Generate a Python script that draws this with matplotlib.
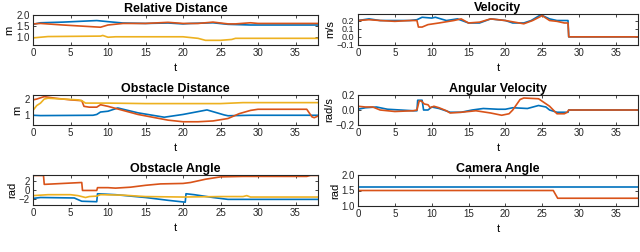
import numpy as np
import matplotlib
matplotlib.use("Agg")
import matplotlib.pyplot as plt

plt.rcParams["font.family"] = ["Liberation Sans", "DejaVu Sans"]

BLUE = "#0072BD"
ORANGE = "#D95319"
YELLOW = "#EDB120"

# ---- Relative Distance (m) ----
rd_blue_t = [0, 1, 4, 8.5, 10, 12, 15, 18, 20, 21, 22, 24, 26, 29, 38]
rd_blue_v = [1.58, 1.65, 1.68, 1.75, 1.7, 1.64, 1.62, 1.64, 1.6, 1.62, 1.63, 1.65, 1.58, 1.55, 1.55]
rd_orange_t = [0, 1, 4, 9, 10, 12, 15, 18, 20, 22, 24, 26, 27, 29, 30, 38]
rd_orange_v = [1.6, 1.62, 1.55, 1.45, 1.55, 1.62, 1.62, 1.67, 1.62, 1.62, 1.68, 1.6, 1.6, 1.65, 1.62, 1.62]
rd_yellow_t = [0, 2, 9, 9.3, 10, 11, 20, 22, 23, 25, 26.5, 27, 38]
rd_yellow_v = [0.97, 1.03, 1.05, 1.08, 1.0, 1.02, 1.02, 0.95, 0.86, 0.86, 0.9, 0.95, 0.95]

# ---- Velocity (m/s) ----
v_blue_t = [0, 1.5, 3, 7, 8, 8.7, 10, 10.5, 12, 13.5, 15, 16.5, 18, 20, 21, 22.5, 23.5, 24.8, 26, 27, 28.5, 28.6, 38]
v_blue_v = [0.2, 0.22, 0.2, 0.2, 0.21, 0.24, 0.23, 0.24, 0.2, 0.22, 0.17, 0.17, 0.22, 0.2, 0.17, 0.17, 0.2, 0.27, 0.22, 0.2, 0.2, 0.0, 0.0]
v_orange_t = [0, 1.5, 3, 5, 7, 8, 8.2, 8.7, 9.5, 11, 13, 14, 15, 16.5, 18, 20, 22.5, 23.7, 25, 26, 27, 28, 28.5, 28.6, 38]
v_orange_v = [0.2, 0.21, 0.2, 0.19, 0.2, 0.2, 0.12, 0.12, 0.15, 0.17, 0.2, 0.22, 0.17, 0.18, 0.22, 0.2, 0.16, 0.2, 0.26, 0.2, 0.19, 0.17, 0.17, 0.0, 0.0]

# ---- Obstacle Distance (m) ----
od_blue_t = [0, 1, 8, 8.5, 9, 10, 11.3, 14, 17.5, 20, 23.2, 25.5, 26, 29, 38]
od_blue_v = [1.0, 0.98, 1.0, 1.05, 1.2, 1.25, 1.45, 1.15, 0.88, 1.05, 1.33, 1.02, 0.97, 1.0, 1.0]
od_orange_t = [0, 0.5, 1.5, 3, 5, 6.5, 6.8, 7.5, 8.5, 9, 10, 14, 18, 20, 22, 24, 26, 27.5, 29, 30, 36.5, 37.2, 37.5, 38]
od_orange_v = [1.95, 2.0, 2.15, 2.05, 1.95, 1.9, 1.55, 1.5, 1.5, 1.65, 1.55, 1.05, 0.7, 0.6, 0.6, 0.65, 0.8, 1.1, 1.3, 1.37, 1.37, 0.9, 0.85, 0.95]
od_yellow_t = [0, 0.5, 1, 1.5, 2, 4, 6, 6.5, 7, 10, 15, 25, 28, 38]
od_yellow_v = [1.3, 1.6, 1.75, 2.0, 2.05, 2.0, 1.95, 1.9, 1.75, 1.75, 1.72, 1.72, 1.78, 1.78]

# ---- Angular Velocity (rad/s) ----
av_blue_t = [0, 1, 2.5, 4, 7.5, 8, 8.1, 8.7, 8.9, 9.5, 10, 11, 12.5, 14, 15.5, 17, 19, 20, 21, 23, 24.5, 25.5, 26, 27, 28.5, 28.6, 38]
av_blue_v = [0.01, 0.03, 0.04, 0.01, -0.01, -0.01, 0.13, 0.13, 0.0, 0.0, 0.04, 0.02, -0.03, -0.03, 0.0, 0.02, 0.01, 0.01, 0.03, 0.02, 0.06, 0.04, 0.0, -0.03, -0.03, 0.0, 0.0]
av_orange_t = [0, 1, 2, 3, 5, 7.5, 8, 8.3, 8.6, 9, 9.5, 9.8, 10.3, 11, 12, 12.5, 14, 16, 18, 19.5, 20.5, 21, 22, 22.5, 24.5, 26, 27, 28, 28.4, 28.6, 38]
av_orange_v = [0.05, 0.04, 0.04, 0.0, -0.02, -0.01, 0.0, 0.12, 0.12, 0.08, 0.07, 0.03, 0.05, 0.03, -0.01, -0.04, -0.03, -0.01, -0.04, -0.07, -0.05, 0.0, 0.14, 0.16, 0.15, 0.05, -0.05, -0.05, -0.03, 0.0, 0.0]

# ---- Obstacle Angle (rad) ----
oa_blue_t = [0, 1, 5.5, 6.5, 8.5, 8.6, 11, 15, 18, 20.3, 20.4, 21.5, 24, 26, 38]
oa_blue_v = [-1.8, -1.6, -1.7, -2.4, -2.5, -0.8, -1.0, -1.6, -2.2, -2.6, -0.8, -1.0, -1.6, -2.0, -2.0]
oa_orange_t = [0, 1.4, 1.5, 6.5, 6.6, 8.5, 8.6, 10, 11, 13, 15, 17, 20, 21, 23, 25, 28, 36.5, 37, 38]
oa_orange_v = [3.1, 3.1, 1.2, 1.6, -0.1, -0.1, 0.5, 0.5, 0.4, 0.6, 1.0, 1.3, 1.4, 1.6, 2.3, 2.8, 2.9, 2.9, 3.1, 3.1]
oa_yellow_t = [0, 2, 5, 6, 7, 7.5, 8.5, 9, 12, 15, 20, 25, 28, 28.5, 29, 38]
oa_yellow_v = [-1.2, -1.0, -1.0, -1.2, -1.6, -1.4, -1.3, -1.0, -1.1, -1.4, -1.5, -1.4, -1.4, -1.2, -1.5, -1.5]

# ---- Camera Angle (rad) ----
ca_blue_t = [0, 38]
ca_blue_v = [1.6, 1.6]
ca_orange_t = [0, 26.5, 27.1, 38]
ca_orange_v = [1.5, 1.5, 1.25, 1.25]


def style_axes(ax, title, ylabel, ylim, yticks):
    ax.set_title(title, fontsize=9, fontweight="bold", pad=2.5)
    ax.set_ylabel(ylabel, fontsize=8, labelpad=1)
    ax.set_xlabel("t", fontsize=8, labelpad=3)
    ax.set_xlim(0, 38)
    ax.set_ylim(*ylim)
    ax.set_xticks(range(0, 40, 5))
    ax.set_yticks(yticks)
    ax.tick_params(direction="in", top=True, right=True, labelsize=7,
                   length=2.5, width=0.6, pad=2.5, colors="#262626")
    for s in ax.spines.values():
        s.set_linewidth(0.8)
        s.set_color("#262626")


fig = plt.figure(figsize=(6.4, 2.52), dpi=100)
W, H = 640, 252


def make_ax(x0, x1, y0, y1):
    return fig.add_axes([x0 / W, 1 - y1 / H, (x1 - x0) / W, (y1 - y0) / H])


lw = 1.2

ax = make_ax(33, 318, 15, 45)
ax.plot(rd_blue_t, rd_blue_v, color=BLUE, lw=lw)
ax.plot(rd_orange_t, rd_orange_v, color=ORANGE, lw=lw)
ax.plot(rd_yellow_t, rd_yellow_v, color=YELLOW, lw=lw)
style_axes(ax, "Relative Distance", "m", (0.65, 2), [1, 1.5, 2])

ax = make_ax(358, 638, 14, 45)
ax.plot(v_blue_t, v_blue_v, color=BLUE, lw=lw)
ax.plot(v_orange_t, v_orange_v, color=ORANGE, lw=lw)
style_axes(ax, "Velocity", "m/s", (-0.1, 0.28), [-0.1, 0, 0.1, 0.2])
ax.tick_params(axis="y", labelsize=6.5)

ax = make_ax(33, 318, 95, 125)
ax.plot(od_blue_t, od_blue_v, color=BLUE, lw=lw)
ax.plot(od_orange_t, od_orange_v, color=ORANGE, lw=lw)
ax.plot(od_yellow_t, od_yellow_v, color=YELLOW, lw=lw)
style_axes(ax, "Obstacle Distance", "m", (0.4, 2.25), [1, 2])

ax = make_ax(358, 638, 95, 125)
ax.plot(av_blue_t, av_blue_v, color=BLUE, lw=lw)
ax.plot(av_orange_t, av_orange_v, color=ORANGE, lw=lw)
style_axes(ax, "Angular Velocity", "rad/s", (-0.2, 0.2), [-0.2, 0, 0.2])

ax = make_ax(33, 318, 175, 205)
ax.plot(oa_blue_t, oa_blue_v, color=BLUE, lw=lw)
ax.plot(oa_orange_t, oa_orange_v, color=ORANGE, lw=lw)
ax.plot(oa_yellow_t, oa_yellow_v, color=YELLOW, lw=lw)
style_axes(ax, "Obstacle Angle", "rad", (-3.2, 3.2), [-2, 0, 2])

ax = make_ax(358, 638, 175, 206)
ax.plot(ca_blue_t, ca_blue_v, color=BLUE, lw=lw)
ax.plot(ca_orange_t, ca_orange_v, color=ORANGE, lw=lw)
style_axes(ax, "Camera Angle", "rad", (1, 2), [1, 1.5, 2])

fig.savefig("out.png", dpi=100, facecolor="white")
